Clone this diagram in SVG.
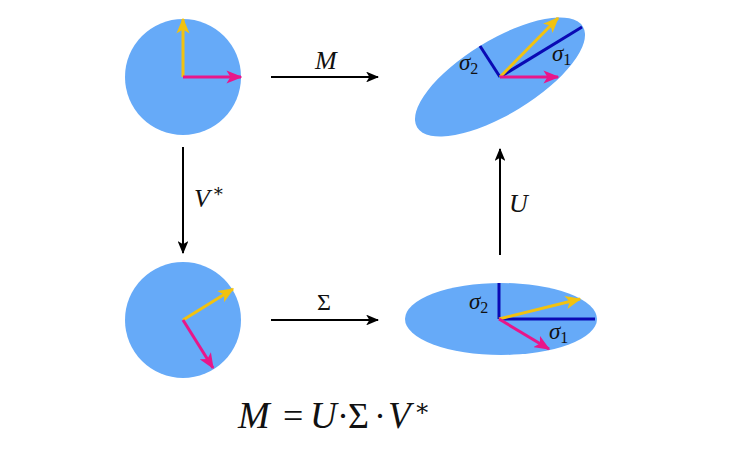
<svg xmlns="http://www.w3.org/2000/svg" width="756" height="464" viewBox="0 0 756 464">
<defs>
<style>
.disk{fill:#66aaf8}
.yel{stroke:#f2c20f;stroke-width:3;fill:none}
.mag{stroke:#e8168a;stroke-width:3;fill:none}
.axis{stroke:#0a0ab4;stroke-width:3;fill:none}
.conn{stroke:#000;stroke-width:2;fill:none}
.math{font-family:"Liberation Serif","DejaVu Serif",serif;font-style:italic;fill:#111}
.up{font-family:"Liberation Serif","DejaVu Serif",serif;fill:#111}
</style>
<marker id="ay" viewBox="0 0 12 10" refX="11" refY="5" markerWidth="5.3" markerHeight="4.4" markerUnits="strokeWidth" orient="auto"><path d="M0,0 L12,5 L0,10 L3,5 Z" fill="#f2c20f"/></marker>
<marker id="am" viewBox="0 0 12 10" refX="11" refY="5" markerWidth="5.3" markerHeight="4.4" markerUnits="strokeWidth" orient="auto"><path d="M0,0 L12,5 L0,10 L3,5 Z" fill="#e8168a"/></marker>
<marker id="ak" viewBox="0 0 12 10" refX="11" refY="5" markerWidth="6.5" markerHeight="5.4" markerUnits="strokeWidth" orient="auto"><path d="M0,0 L12,5 L0,10 L3,5 Z" fill="#000"/></marker>
</defs>
<rect width="756" height="464" fill="#fff"/>

<g id="circle-top">
<circle class="disk" cx="183" cy="77" r="58"/>
<line class="yel" x1="183" y1="77" x2="183" y2="19" marker-end="url(#ay)"/>
<line class="mag" x1="183" y1="77" x2="241" y2="77" marker-end="url(#am)"/>
</g>

<g id="ellipse-top">
<ellipse class="disk" cx="500" cy="77" rx="97" ry="37" transform="rotate(-31.4 500 77)"/>
<line class="axis" x1="500" y1="77" x2="582" y2="27"/>
<line class="axis" x1="500" y1="77" x2="480" y2="46"/>
<line class="yel" x1="500" y1="77" x2="558" y2="18" marker-end="url(#ay)"/>
<line class="mag" x1="500" y1="77" x2="558" y2="77" marker-end="url(#am)"/>
<text class="math" x="459" y="70" font-size="23">σ<tspan font-style="normal" font-size="16" dy="4">2</tspan></text>
<text class="math" x="552" y="61" font-size="23">σ<tspan font-style="normal" font-size="16" dy="4">1</tspan></text>
</g>

<g id="circle-bottom">
<circle class="disk" cx="183" cy="320" r="58"/>
<line class="yel" x1="183" y1="320" x2="233" y2="289" marker-end="url(#ay)"/>
<line class="mag" x1="183" y1="320" x2="213" y2="368" marker-end="url(#am)"/>
</g>

<g id="ellipse-bottom">
<ellipse class="disk" cx="501" cy="319" rx="96" ry="36"/>
<line class="axis" x1="499" y1="319" x2="595" y2="319"/>
<line class="axis" x1="499" y1="319" x2="499" y2="283"/>
<line class="yel" x1="499" y1="319" x2="580" y2="299" marker-end="url(#ay)"/>
<line class="mag" x1="499" y1="319" x2="549" y2="349" marker-end="url(#am)"/>
<text class="math" x="469" y="309" font-size="23">σ<tspan font-style="normal" font-size="16" dy="4">2</tspan></text>
<text class="math" x="549" y="339" font-size="23">σ<tspan font-style="normal" font-size="16" dy="4">1</tspan></text>
</g>

<g id="connectors">
<line class="conn" x1="271" y1="77" x2="378" y2="77" marker-end="url(#ak)"/>
<line class="conn" x1="271" y1="320" x2="378" y2="320" marker-end="url(#ak)"/>
<line class="conn" x1="183" y1="147" x2="183" y2="253" marker-end="url(#ak)"/>
<line class="conn" x1="500" y1="255" x2="500" y2="149" marker-end="url(#ak)"/>
</g>

<g id="labels">
<text class="math" x="315" y="69" font-size="26">M</text>
<text class="up" x="317" y="310" font-size="24">Σ</text>
<text class="math" x="194" y="207" font-size="26">V<tspan font-style="normal" font-size="18" dx="2" dy="-10">∗</tspan></text>
<text class="math" x="509" y="212" font-size="26">U</text>
</g>

<g id="formula">
<text class="math" x="238" y="428" font-size="38">M</text>
<text class="up" x="283" y="428" font-size="36">=</text>
<text class="math" x="310" y="428" font-size="37">U</text>
<text class="up" x="337" y="428" font-size="36">·</text>
<text class="up" x="348" y="428" font-size="36">Σ</text>
<text class="up" x="374" y="428" font-size="36">·</text>
<text class="math" x="388" y="428" font-size="37">V</text>
<text class="up" x="414" y="416" font-size="24">∗</text>
</g>
</svg>
